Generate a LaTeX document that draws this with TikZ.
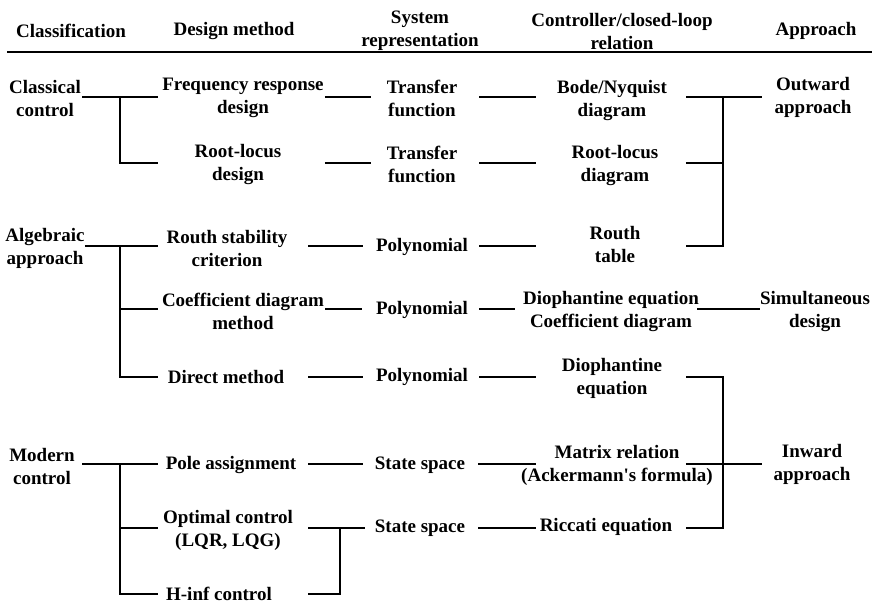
\documentclass[tikz,border=0pt]{standalone}
\usepackage{fontspec}
\setmainfont{Liberation Serif}
\begin{document}
\begin{tikzpicture}[x=1pt,y=-1pt,
  txt/.style={font=\bfseries\fontsize{19}{23}\selectfont, align=center, inner sep=0pt},
  conn/.style={line width=1.2pt, line join=miter}]
\useasboundingbox (0,0) rectangle (872,603);
% row levels
\coordinate (R1) at (0,97);
\coordinate (R2) at (0,163);
\coordinate (R3) at (0,246);
\coordinate (R4) at (0,309);
\coordinate (R5) at (0,377);
\coordinate (R6) at (0,464);
\coordinate (R7) at (0,528);
\coordinate (R8) at (0,594);
% headers
\node[txt] (h1) at (71,31) {Classification};
\node[txt] (h2) at (234,31) {Design method};
\node[txt] (h3) at (420,31) {System\\representation};
\node[txt] (h4) at (622,31) {Controller/closed-loop\\relation};
\node[txt] (h5) at (816,31) {Approach};
\coordinate (HL) at (7,52);
\coordinate (HR) at (872,52);
\draw[line width=1.5pt] (HL) -- (HR);
% nodes
\node[txt] (c1) at (45,98) {Classical\\control};
\node[txt] (d1) at (243,98) {Frequency response\\design};
\node[txt] (s1) at (422,98) {Transfer\\function};
\node[txt] (r1) at (612,101) {Bode/Nyquist\\diagram};
\node[txt] (a1) at (813,97) {Outward\\approach};

\node[txt] (d2) at (238,164) {Root-locus\\design};
\node[txt] (s2) at (422,164) {Transfer\\function};
\node[txt] (r2) at (615,165) {Root-locus\\diagram};

\node[txt] (c2) at (45,248) {Algebraic\\approach};
\node[txt] (d3) at (227,248) {Routh stability\\criterion};
\node[txt] (s3) at (422,247) {Polynomial};
\node[txt] (r3) at (615,244) {Routh\\table};

\node[txt] (d4) at (243,311) {Coefficient diagram\\method};
\node[txt] (s4) at (422,310) {Polynomial};
\node[txt] (r4) at (611,311) {Diophantine equation\\Coefficient diagram};
\node[txt] (a2) at (815,311) {Simultaneous\\design};

\node[txt] (d5) at (226,377) {Direct method};
\node[txt] (s5) at (422,377) {Polynomial};
\node[txt] (r5) at (612,378) {Diophantine\\equation};

\node[txt] (c3) at (42,466) {Modern\\control};
\node[txt] (d6) at (231,465) {Pole assignment};
\node[txt] (s6) at (420,465) {State space};
\node[txt] (r6) at (617,465) {Matrix relation\\(Ackermann\textquotesingle s formula)};
\node[txt] (a3) at (812,464) {Inward\\approach};

\node[txt] (d7) at (228,530) {Optimal control\\(LQR, LQG)};
\node[txt] (s7) at (420,528) {State space};
\node[txt] (r7) at (606,527) {Riccati equation};

\node[txt] (d8) at (219,593.5) {H-inf control};

% junctions
\coordinate (J1) at (120,97);
\coordinate (J2) at (723,97);
\coordinate (J3) at (120,246);
\coordinate (J4) at (723,528);
\coordinate (J5) at (120,464);
\coordinate (J6) at (340,528);

% row 1
\draw[conn, shorten <=1pt, shorten >=4pt] (c1.east |- R1) -- (d1.west |- R1);
\draw[conn, shorten >=36.5pt] (J1) |- (d2.west |- R2);
\draw[conn, shorten <=1pt, shorten >=16pt] (d1.east |- R1) -- (s1.west |- R1);
\draw[conn, shorten <=22pt, shorten >=21pt] (s1.east |- R1) -- (r1.west |- R1);
\draw[conn, shorten <=19pt, shorten >=12.5pt] (r1.east |- R1) -- (a1.west |- R1);
\draw[conn, shorten >=45.5pt] (J2) |- (r3.east |- R3);
% row 2
\draw[conn, shorten <=43.5pt, shorten >=16pt] (d2.east |- R2) -- (s2.west |- R2);
\draw[conn, shorten <=22pt, shorten >=35.5pt] (s2.east |- R2) -- (r2.west |- R2);
\draw[conn, shorten <=27.5pt] (r2.east |- R2) -- (J2 |- R2);
% row 3
\draw[conn, shorten >=8.5pt] (c2.east |- R3) -- (d3.west |- R3);
\draw[conn, shorten >=10pt] (J3) |- (d5.west |- R5);
\draw[conn, shorten >=4pt] (J3 |- R4) -- (d4.west |- R4);
\draw[conn, shorten <=20.5pt, shorten >=13pt] (d3.east |- R3) -- (s3.west |- R3);
\draw[conn, shorten <=11pt, shorten >=53.5pt] (s3.east |- R3) -- (r3.west |- R3);
% row 4
\draw[conn, shorten <=1pt, shorten >=14pt] (d4.east |- R4) -- (s4.west |- R4);
\draw[conn, shorten <=11pt, shorten >=8pt] (s4.east |- R4) -- (r4.west |- R4);
\draw[conn, shorten <=-2pt] (r4.east |- R4) -- (a2.west |- R4);
% row 5
\draw[conn, shorten <=24pt, shorten >=13pt] (d5.east |- R5) -- (s5.west |- R5);
\draw[conn, shorten <=11pt, shorten >=26pt] (s5.east |- R5) -- (r5.west |- R5);
\draw[conn, shorten <=24pt, shorten >=14pt] (r5.east |- R5) -| (J4) -- (r7.east |- R7);
% row 6
\draw[conn, shorten <=7.5pt, shorten >=8pt] (c3.east |- R6) -- (d6.west |- R6);
\draw[conn, shorten >=8pt] (J5) |- (d8.west |- R8);
\draw[conn, shorten >=5pt] (J5 |- R7) -- (d7.west |- R7);
\draw[conn, shorten <=12pt, shorten >=12pt] (d6.east |- R6) -- (s6.west |- R6);
\draw[conn, shorten <=13pt, shorten >=-15pt] (s6.east |- R6) -- (r6.west |- R6);
\draw[conn, shorten <=-27pt, shorten >=11.5pt] (r6.east |- R6) -- (a3.west |- R6);
% row 7 / 8
\draw[conn, shorten <=15pt, shorten >=10pt] (d7.east |- R7) -- (s7.west |- R7);
\draw[conn, shorten <=36pt] (d8.east |- R8) -| (J6);
\draw[conn, shorten <=13pt, shorten >=4pt] (s7.east |- R7) -- (r7.west |- R7);
\end{tikzpicture}
\end{document}
